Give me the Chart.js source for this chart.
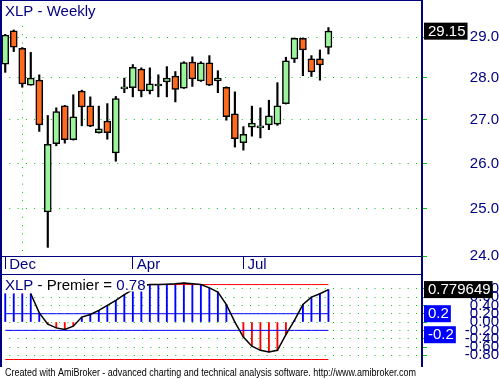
<!DOCTYPE html>
<html>
<head>
<meta charset="utf-8">
<script src="https://cdn.jsdelivr.net/npm/chart.js@4.4.1/dist/chart.umd.min.js"></script>
<style>
  body { margin: 0; background: #fff; }
  #wrap { position: relative; width: 499px; height: 379px; overflow: hidden; background: #fff; }
  #priceChart { position: absolute; left: 0; top: 0; }
  #premierChart { position: absolute; left: 0; top: 274px; }
</style>
</head>
<body>
<div id="wrap">
  <canvas id="priceChart" width="499" height="275"></canvas>
  <canvas id="premierChart" width="499" height="105"></canvas>
</div>
<script>
// weekly XLP candles
const opens  = [28.33, 29.16, 28.72, 27.82, 27.94, 24.93, 26.45, 27.33, 26.54, 27.68,
                27.33, 26.70, 26.97, 26.24, 27.73, 27.76, 28.21, 27.68, 27.80, 27.90,
                28.04, 27.75, 28.38, 27.92, 28.36, 27.92, 27.77, 27.14, 26.47, 26.83,
                26.81, 26.88, 26.90, 27.38, 28.46, 28.97, 28.46, 28.46, 28.74];
const highs  = [29.07, 29.18, 28.74, 28.62, 28.07, 27.10, 27.28, 27.34, 27.59, 27.70,
                27.54, 27.32, 27.38, 27.55, 27.99, 28.32, 28.24, 28.24, 28.07, 28.27,
                28.15, 28.39, 28.51, 28.39, 28.54, 28.17, 27.78, 27.66, 26.84, 27.32,
                27.28, 27.46, 27.88, 28.50, 28.98, 28.98, 28.54, 28.68, 29.24];
const lows   = [28.13, 28.64, 27.77, 27.82, 26.73, 24.18, 26.40, 26.46, 26.53, 26.86,
                26.84, 26.69, 26.55, 26.05, 27.64, 27.54, 27.54, 27.61, 27.54, 27.54,
                27.42, 27.74, 27.79, 27.91, 27.81, 27.64, 26.99, 26.37, 26.30, 26.62,
                26.58, 26.77, 26.87, 27.37, 28.37, 28.05, 28.03, 27.94, 28.58];
const closes = [29.05, 28.75, 27.85, 27.99, 26.88, 26.43, 27.19, 26.54, 27.07, 27.30,
                26.85, 26.79, 26.70, 27.50, 27.73, 28.25, 27.68, 27.85, 27.80, 27.99,
                27.72, 28.37, 27.97, 28.36, 27.82, 27.99, 27.07, 26.56, 26.66, 26.92,
                26.81, 27.09, 27.33, 28.41, 28.97, 28.68, 28.14, 28.31, 29.15];

// premier stochastic
const premier = [0.68, 0.68, 0.68, 0.68, 0.22, -0.05, -0.14, -0.18, -0.10, 0.12,
                 0.18, 0.28, 0.40, 0.52, 0.66, 0.78, 0.86, 0.90, 0.90, 0.91,
                 0.92, 0.94, 0.92, 0.90, 0.82, 0.72, 0.42, 0.00, -0.36, -0.58,
                 -0.68, -0.72, -0.68, -0.30, 0.04, 0.42, 0.60, 0.68, 0.779649];
const premierLineStart = 3;

const levelValues = [0.9, 0.2, -0.2, -0.9];
const levelColors = ['#ff0000', '#0000ff', '#0000ff', '#ff0000'];
const levelBoxes  = [false, true, true, false];

const monthIdx = [0, 15, 28];
const monthNames = ['Dec', 'Apr', 'Jul'];
const yearBreakIdx = 2;

const priceTicks = [24, 25, 26, 27, 28, 29];
const premierTicks = [-0.8, -0.6, -0.4, -0.2, 0, 0.2, 0.4, 0.6, 0.8];

const NAVY = '#000080';
const GRID = '#00c800';
const UP = '#9cf59c';
const DOWN = '#ff6a1e';
const FONT = "'Liberation Sans', Arial, sans-serif";
const idx = closes.map((_, i) => i);

function valueBox(ctx, x, yMid, text, bg) {
    ctx.font = '15px ' + FONT;
    const w = ctx.measureText(text).width + 6;
    ctx.fillStyle = bg;
    ctx.fillRect(x, yMid - 8.5, w, 17);
    ctx.fillStyle = '#fff';
    ctx.textBaseline = 'middle';
    ctx.textAlign = 'left';
    ctx.fillText(text, x + 4, yMid + 0.5);
}

const priceDecor = {
    id: 'priceDecor',
    afterDraw(chart) {
        const {ctx, chartArea: a} = chart;
        ctx.save();
        ctx.fillStyle = NAVY;
        ctx.fillRect(0, 0, a.right + 1, 1);
        ctx.fillRect(0, 0, 2, chart.height);
        ctx.fillRect(a.right - 1, 0, 2, chart.height);
        ctx.fillRect(0, a.bottom, a.right + 1, 1);

        // title
        ctx.fillStyle = '#fff';
        ctx.fillRect(2, 1, 97, 18);
        ctx.font = '15px ' + FONT;
        ctx.fillStyle = NAVY;
        ctx.textBaseline = 'alphabetic';
        ctx.fillText('XLP - Weekly', 5, 16);

        const last = closes.length - 1;
        valueBox(ctx, a.right + 2, chart.scales.y.getPixelForValue(closes[last]), closes[last].toFixed(2), '#000');
        ctx.restore();
    }
};

new Chart(document.getElementById('priceChart'), {
    type: 'bar',
    data: {
        datasets: [{
            label: 'body',
            data: idx.map(i => ({x: i, y: [opens[i], closes[i]]})),
            backgroundColor: idx.map(i => closes[i] >= opens[i] ? UP : DOWN),
            borderColor: '#000',
            borderWidth: 1.5,
            borderSkipped: false,
            barThickness: 7,
            minBarLength: 2,
            grouped: false,
            order: 0
        }, {
            label: 'wick',
            data: idx.map(i => ({x: i, y: [lows[i], highs[i]]})),
            backgroundColor: '#000',
            barThickness: 1.5,
            grouped: false,
            order: 1
        }]
    },
    options: {
        responsive: false,
        animation: false,
        layout: {padding: {left: 1, top: 1, right: 0, bottom: 0}},
        plugins: {legend: {display: false}, tooltip: {enabled: false}},
        scales: {
            x: {
                type: 'linear', min: -0.5, max: 49, position: 'bottom', offset: false,
                afterBuildTicks: a => { a.ticks = [0, yearBreakIdx].concat(monthIdx.slice(1)).map(v => ({value: v})); },
                afterFit: a => { a.height = 19; a.paddingLeft = 0; a.paddingRight = 0; },
                ticks: {
                    autoSkip: false, maxRotation: 0, align: 'start', labelOffset: 4, padding: -13,
                    color: NAVY, font: {family: FONT, size: 15},
                    callback: v => { const k = monthIdx.indexOf(v); return k >= 0 ? monthNames[k] : ''; }
                },
                grid: {
                    offset: false,
                    color: c => c.tick && c.tick.value === yearBreakIdx ? GRID : 'rgba(0,0,0,0)',
                    tickColor: c => c.tick && c.tick.value === yearBreakIdx ? 'rgba(0,0,0,0)' : NAVY,
                    tickLength: 13
                },
                border: {display: false, dash: [1, 7.3]}
            },
            y: {
                type: 'logarithmic', position: 'right', min: 24, max: 29.92,
                afterBuildTicks: a => { a.ticks = priceTicks.map(v => ({value: v})); },
                afterFit: a => { a.width = 77; a.paddingTop = 0; a.paddingBottom = 0; },
                ticks: {autoSkip: false, callback: v => Number(v).toFixed(1), color: NAVY, font: {family: FONT, size: 15}, crossAlign: 'far', padding: 39.5},
                grid: {color: GRID, tickColor: GRID, tickLength: 5},
                border: {display: false, dash: [1, 7.3]}
            }
        }
    },
    plugins: [priceDecor]
});

const premierDecor = {
    id: 'premierDecor',
    afterDraw(chart) {
        const {ctx, chartArea: a} = chart;
        const y = chart.scales.y;
        ctx.save();
        ctx.fillStyle = NAVY;
        ctx.fillRect(0, 0, a.right + 1, 1);
        ctx.fillRect(0, 0, 2, a.bottom);
        ctx.fillRect(a.right - 1, 0, 2, a.bottom);

        // title
        ctx.fillStyle = '#fff';
        ctx.fillRect(2, 1, 145, 16.5);
        ctx.font = '15px ' + FONT;
        ctx.textBaseline = 'alphabetic';
        let x = 5;
        const last = premier[premier.length - 1];
        [['XLP', NAVY], [' - Premier = ', '#000'], [last.toFixed(2), NAVY]].forEach(([t, c]) => {
            ctx.fillStyle = c;
            ctx.fillText(t, x, 16.3);
            x += ctx.measureText(t).width;
        });

        // value labels on the axis
        const boxes = [{v: last, text: String(last), bg: '#000'}];
        levelValues.forEach((v, k) => { if (levelBoxes[k]) boxes.push({v: v, text: String(v), bg: levelColors[k]}); });
        boxes.sort((p, q) => q.v - p.v);
        let prevBottom = -100;
        boxes.forEach(b => {
            let mid = y.getPixelForValue(b.v);
            if (mid - 8.5 < prevBottom + 4) mid = prevBottom + 4 + 8.5;
            valueBox(ctx, a.right + 2, mid, b.text, b.bg);
            prevBottom = mid + 8.5;
        });

        // footer
        ctx.font = '10px ' + FONT;
        ctx.fillStyle = '#000';
        ctx.textBaseline = 'alphabetic';
        ctx.fillText('Created with AmiBroker - advanced charting and technical analysis software. http://www.amibroker.com', 5, 102, 411);
        ctx.restore();
    }
};

new Chart(document.getElementById('premierChart'), {
    type: 'bar',
    data: {
        datasets: [{
            type: 'line',
            data: idx.map(i => ({x: i, y: i < premierLineStart ? null : premier[i]})),
            borderColor: '#000', borderWidth: 1.5, pointRadius: 0, order: 0
        }].concat(levelValues.map((v, k) => ({
            type: 'line',
            data: idx.map(i => ({x: i, y: v})),
            borderColor: levelColors[k], borderWidth: 1, pointRadius: 0, order: 1
        }))).concat([{
            type: 'bar',
            data: idx.map(i => ({x: i, y: premier[i]})),
            backgroundColor: idx.map(i => premier[i] >= 0 ? '#0000ff' : '#ff0000'),
            barThickness: 1.2, grouped: false, order: 2
        }])
    },
    options: {
        responsive: false,
        animation: false,
        layout: {padding: {left: 1, top: 1, right: 0, bottom: 12}},
        plugins: {legend: {display: false}, tooltip: {enabled: false}},
        scales: {
            x: {type: 'linear', min: -0.5, max: 49, display: false, offset: false},
            y: {
                min: -1.08, max: 1.13, position: 'right',
                afterBuildTicks: a => { a.ticks = premierTicks.map(v => ({value: v})); },
                afterFit: a => { a.width = 77; a.paddingTop = 0; a.paddingBottom = 0; },
                ticks: {autoSkip: false, callback: v => Number(v).toFixed(2), color: NAVY, font: {family: FONT, size: 15}, crossAlign: 'far', padding: 34.5},
                grid: {color: GRID, tickColor: GRID, tickLength: 5},
                border: {display: false, dash: [1, 7.3]}
            }
        }
    },
    plugins: [premierDecor]
});
</script>
</body>
</html>
